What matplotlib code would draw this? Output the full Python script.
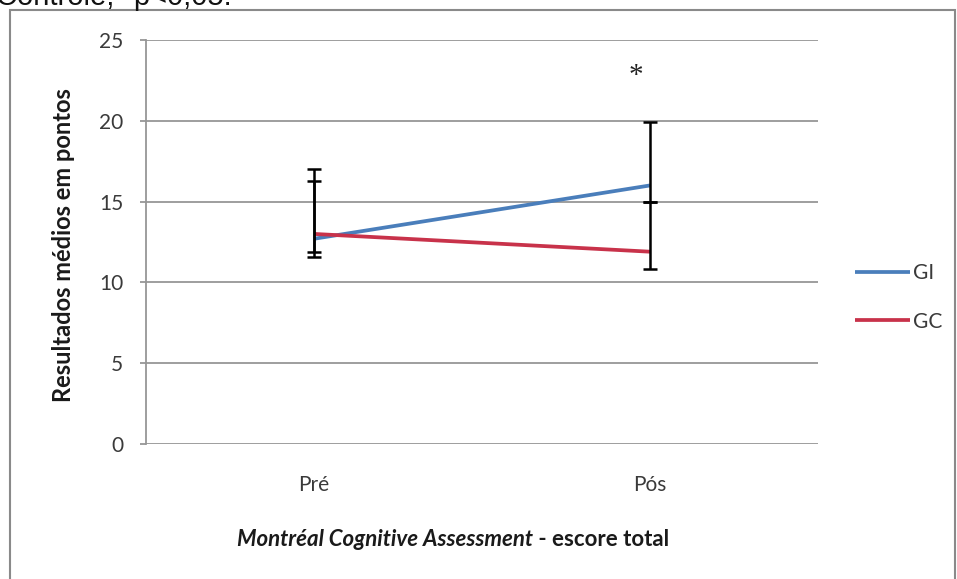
import matplotlib.pyplot as plt
from matplotlib.patches import Rectangle
import numpy as np

## Data
categories = ['Pré', 'Pós']
series_names = ['GI', 'GC']
gi_mean = [12.7, 16.0]
gi_upper = [17.0, 19.9]
gi_lower = [11.6, 15.0]
gc_mean = [13.0, 11.9]
gc_upper = [16.3, 15.0]
gc_lower = [11.9, 10.8]
y_ticks = [0, 5, 10, 15, 20, 25]
star_pos = (0.958, 22.75)

## Style
W, H = 957, 579
BLUE = '#4a7ebb'
RED = '#c8324a'
GRID = '#969696'
TXT = '#3a3a3a'
plt.rcParams['font.family'] = ['Lato', 'DejaVu Sans']

fig = plt.figure(figsize=(W / 100, H / 100), dpi=100)
fig.patch.set_facecolor('white')

# outer chart frame (cut off at the bottom in the reference)
fig.patches.append(Rectangle((10 / W, -0.05), (955 - 10) / W, 1.05 - 10 / H,
                             transform=fig.transFigure, fill=False,
                             edgecolor='#8a8a8a', linewidth=1.5))

# caption from the page above, mostly cut off
fig.text(-4 / W, 1 - 5 / H, 'Controle; *p<0,05.', family='Liberation Sans',
         fontsize=21, ha='left', va='baseline', color='#111111')

ax = fig.add_axes([146 / W, 1 - 444 / H, (818 - 146) / W, (444 - 40) / H])
x = np.arange(len(categories))

ax.plot(x, gi_mean, color=BLUE, lw=2.7, label=series_names[0], zorder=3,
        solid_capstyle='butt')
ax.plot(x, gc_mean, color=RED, lw=2.7, label=series_names[1], zorder=3,
        solid_capstyle='butt')

# custom (asymmetric) error bars
for mean, lo, up in [(gi_mean, gi_lower, gi_upper), (gc_mean, gc_lower, gc_upper)]:
    m = np.array(mean)
    yerr = [m - np.array(lo), np.array(up) - m]
    ax.errorbar(x, m, yerr=yerr, fmt='none', ecolor='black', elinewidth=1.8,
                capsize=4.7, capthick=1.8, zorder=4)

ax.text(star_pos[0], star_pos[1], '*', family='Liberation Serif', fontsize=21,
        ha='center', va='center', color='#222222')

ax.set_xlim(-0.5, 1.5)
ax.set_ylim(0, 25)
ax.set_yticks(y_ticks)
ax.set_xticks(x)
ax.set_xticklabels(categories)
ax.yaxis.grid(True, color=GRID, lw=1.3)
ax.set_axisbelow(True)
for s in ['top', 'right', 'bottom']:
    ax.spines[s].set_visible(False)
ax.spines['left'].set_color(GRID)
ax.spines['left'].set_linewidth(1.3)
ax.tick_params(axis='y', length=4.3, width=1.3, color=GRID, pad=12,
               labelsize=15, labelcolor=TXT)
ax.tick_params(axis='x', length=0, pad=22, labelsize=15, labelcolor=TXT)

ax.set_ylabel('Resultados médios em pontos', fontsize=17, fontweight='bold',
              color='#1a1a1a')
ax.yaxis.set_label_coords(-0.106, 0.4926)

# x axis title, italic + normal part
fig.text(533 / W, 1 - 540 / H, 'Montréal Cognitive Assessment', fontsize=16,
         fontweight='bold', style='italic', ha='right', va='center', color='#1a1a1a')
fig.text(533 / W, 1 - 540 / H, ' - escore total', fontsize=16,
         fontweight='bold', ha='left', va='center', color='#1a1a1a')

fig.legend(loc='center left', bbox_to_anchor=(855 / W, 1 - 297.5 / H),
           frameon=False, fontsize=15, handlelength=2.64, handletextpad=0.15,
           labelspacing=1.35, borderpad=0, borderaxespad=0, labelcolor=TXT)

fig.savefig('out.png', dpi=100)
